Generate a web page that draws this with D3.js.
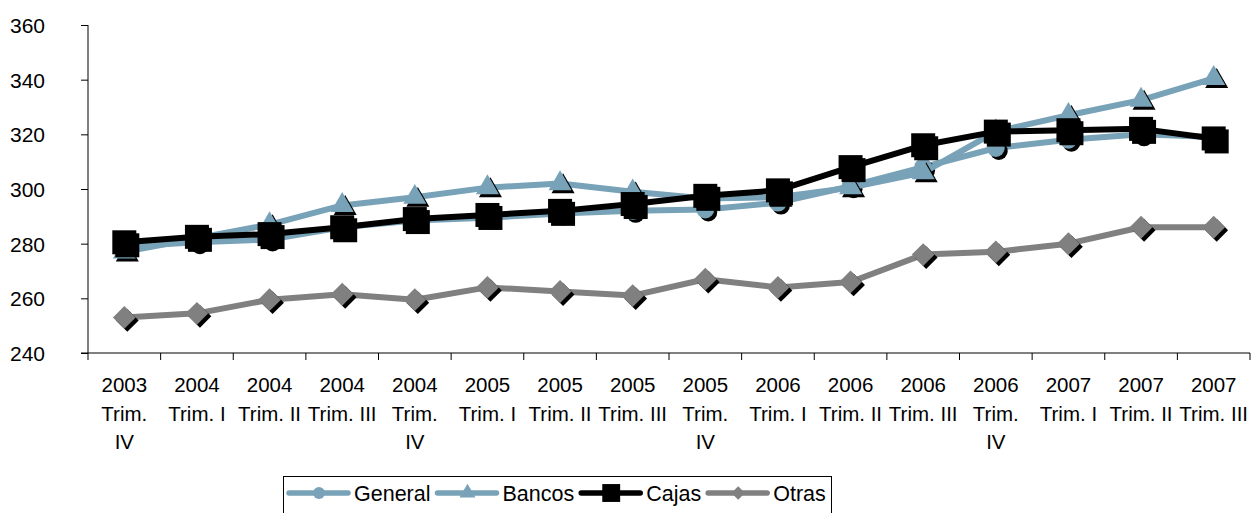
<!DOCTYPE html>
<html><head><meta charset="utf-8">
<script src="https://cdn.jsdelivr.net/npm/d3@7"></script>
<style>body{margin:0;background:#fff}svg{display:block}text{font-family:"Liberation Sans",Arial,sans-serif}</style>
</head><body><svg id="c" width="1254" height="513"></svg>
<script>
const categories = [["2003","Trim.","IV"],["2004","Trim. I"],["2004","Trim. II"],["2004","Trim. III"],["2004","Trim.","IV"],["2005","Trim. I"],["2005","Trim. II"],["2005","Trim. III"],["2005","Trim.","IV"],["2006","Trim. I"],["2006","Trim. II"],["2006","Trim. III"],["2006","Trim.","IV"],["2007","Trim. I"],["2007","Trim. II"],["2007","Trim. III"]];
const general = [279, 280.5, 281.5, 286, 288.5, 289.5, 291, 292, 292.5, 295, 301, 308, 315, 318, 320, 319];
const bancos  = [277, 282, 287, 294, 297, 300.5, 302, 299, 296.5, 297, 300.5, 306, 321, 327, 332.5, 340.5];
const cajas   = [280.5, 282.5, 283.5, 286, 289, 290.5, 292, 294.5, 297.5, 299.5, 308, 316, 321, 321.5, 322, 318.5];
const otras   = [253, 254.5, 259.5, 261.5, 259.5, 264, 262.5, 261, 267, 264, 266, 276, 277, 280, 286, 286];
const yTicks = [240, 260, 280, 300, 320, 340, 360];
const seriesNames = ["General","Bancos","Cajas","Otras"];

const svg = d3.select("#c");
const x = d3.scaleBand().domain(d3.range(categories.length)).range([88, 1250]);
const y = d3.scaleLinear().domain([240, 360]).range([353, 25]);
const blue = "#78A2B7", gray = "#808080";

const diamond = { draw(ctx, size){ const r = Math.sqrt(size/2); ctx.moveTo(0,-r); ctx.lineTo(r,0); ctx.lineTo(0,r); ctx.lineTo(-r,0); ctx.closePath(); } };

const series = [
  {name:seriesNames[0], data:general, color:blue, sym:d3.symbolCircle, size:250, lsize:110},
  {name:seriesNames[1], data:bancos, color:blue, sym:d3.symbolTriangle, size:230, lsize:110},
  {name:seriesNames[2], data:cajas, color:"#000", sym:d3.symbolSquare, size:576, lsize:320},
  {name:seriesNames[3], data:otras, color:gray, sym:diamond, size:260, lsize:90}
];

// y axis
const ya = svg.append("g").attr("transform","translate(88,0)")
  .call(d3.axisLeft(y).tickValues(yTicks).tickSize(7).tickPadding(36));
ya.selectAll("text").attr("font-size",21).attr("fill","#000").attr("text-anchor","end").attr("dy","0.35em");
ya.select(".domain").attr("d","M0,25V353");
ya.selectAll("line,path").attr("stroke","#000");

// x axis
const xa = svg.append("g").attr("transform","translate(0,353)");
xa.append("line").attr("x1",81).attr("x2",1250).attr("stroke","#000");
const bounds = d3.range(categories.length+1).map(i => i<categories.length ? x(i) : x(categories.length-1)+x.bandwidth());
xa.selectAll("line.t").data(bounds).join("line").attr("class","t")
  .attr("x1",d=>d).attr("x2",d=>d).attr("y1",0).attr("y2",7).attr("stroke","#000");
categories.forEach((c,i)=>{
  const t = xa.append("text").attr("text-anchor","middle").attr("font-size",20.5).attr("fill","#000")
    .attr("transform",`translate(${x(i)+x.bandwidth()/2},0)`);
  c.forEach((s,j)=>t.append("tspan").attr("x",0).attr("y",39+j*28.5).text(s));
});

const cx = i => x(i)+x.bandwidth()/2;
const line = d3.line().x((d,i)=>cx(i)).y(d=>y(d));

series.forEach(s=>{
  const g = svg.append("g");
  g.append("path").attr("d",line(s.data)).attr("fill","none").attr("stroke",s.color).attr("stroke-width",6).attr("stroke-linejoin","round");
  const sym = d3.symbol().type(s.sym).size(s.size);
  g.selectAll("path.sh").data(s.data).join("path").attr("class","sh")
    .attr("d",sym).attr("fill","#000").attr("transform",(d,i)=>`translate(${cx(i)+3},${y(d)+3})`);
  g.selectAll("path.m").data(s.data).join("path").attr("class","m")
    .attr("d",sym).attr("fill",s.color).attr("transform",(d,i)=>`translate(${cx(i)},${y(d)})`);
});

// legend
const lg = svg.append("g");
lg.append("rect").attr("x",283.5).attr("y",476.5).attr("width",548).attr("height",40).attr("fill","#fff").attr("stroke","#000");
let lx = 289;
series.forEach(s=>{
  lg.append("line").attr("x1",lx).attr("x2",lx+59).attr("y1",493).attr("y2",493).attr("stroke",s.color).attr("stroke-width",5.5).attr("stroke-linecap","round");
  lg.append("path").attr("d",d3.symbol().type(s.sym).size(s.lsize)).attr("fill",s.color).attr("transform",`translate(${lx+30},493)`);
  const t = lg.append("text").attr("x",lx+65).attr("y",500.5).attr("font-size",21.5).attr("fill","#000").text(s.name);
  lx = lx + 65 + t.node().getComputedTextLength() + 7;
});
</script></body></html>
